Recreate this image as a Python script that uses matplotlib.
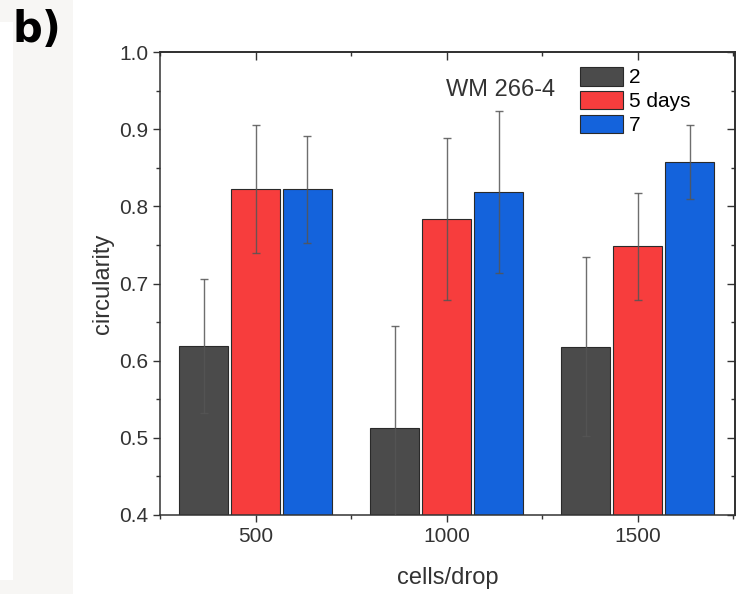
import numpy as np
import matplotlib
matplotlib.use("Agg")
import matplotlib.pyplot as plt
from matplotlib.patches import Rectangle
from matplotlib.ticker import MultipleLocator, FormatStrFormatter

# values (circularity, mean and error)
cells = [500, 1000, 1500]
day2 = [0.619, 0.513, 0.618]
err2 = [0.087, 0.132, 0.116]
day5 = [0.822, 0.783, 0.748]
err5 = [0.083, 0.105, 0.069]
day7 = [0.822, 0.818, 0.858]
err7 = [0.069, 0.105, 0.048]
labels = ["2", "5 days", "7"]
colors = ["#4b4b4b", "#f73d3d", "#1463dc"]

plt.rcParams['font.family'] = ['Liberation Sans', 'DejaVu Sans']

fig = plt.figure(figsize=(7.43, 5.94), dpi=100)

# light grey panel strip on the left, as in the scanned figure
fig.patches.append(Rectangle((0, 0), 73 / 743, 1, transform=fig.transFigure,
                             facecolor="#f7f6f4", edgecolor="none", zorder=0))
fig.patches.append(Rectangle((0, 14 / 594), 13 / 743, 1 - 36 / 594, transform=fig.transFigure,
                             facecolor="white", edgecolor="none", zorder=0))
fig.text(12 / 743, 1 - 9 / 594, "b)", fontsize=30, fontweight="bold",
         family="DejaVu Sans", ha="left", va="top")

ax = fig.add_axes([160 / 743, 1 - 515 / 594, 575 / 743, 463 / 594])

x = np.array(cells, dtype=float)
width = 127
offset = 136
series = [(day2, err2), (day5, err5), (day7, err7)]
handles = []
for i, (vals, errs) in enumerate(series):
    pos = x + (i - 1) * offset
    b = ax.bar(pos, vals, width=width, bottom=0, color=colors[i],
               edgecolor="#2a2a2a", linewidth=0.8, label=labels[i], zorder=2)
    ax.errorbar(pos, vals, yerr=errs, fmt="none", ecolor="#555555",
                elinewidth=1.0, capsize=3, capthick=1.0, alpha=0.85, zorder=3)
    handles.append(b)

ax.set_xlim(250, 1755)
ax.set_ylim(0.4, 1.0)
ax.set_xticks(cells)
ax.xaxis.set_minor_locator(MultipleLocator(250))
ax.yaxis.set_major_locator(MultipleLocator(0.1))
ax.yaxis.set_minor_locator(MultipleLocator(0.05))
ax.yaxis.set_major_formatter(FormatStrFormatter("%.1f"))

for s in ax.spines.values():
    s.set_linewidth(1.1)
    s.set_color("#333333")
ax.tick_params(which="major", direction="out", length=5, width=1.0,
               color="#333333", labelsize=15, labelcolor="#333333")
ax.tick_params(which="minor", direction="out", length=3, width=1.0, color="#333333")

# inward ticks on the top and right sides, no labels
top = ax.secondary_xaxis("top")
top.set_xticks(cells)
top.xaxis.set_minor_locator(MultipleLocator(250))
top.tick_params(which="major", direction="in", length=6, width=1.0, color="#333333",
                labeltop=False)
top.tick_params(which="minor", direction="in", length=3, width=1.0, color="#333333")
top.spines["top"].set_linewidth(1.1)
right = ax.secondary_yaxis("right")
right.yaxis.set_major_locator(MultipleLocator(0.1))
right.yaxis.set_minor_locator(MultipleLocator(0.05))
right.tick_params(which="major", direction="in", length=6, width=1.0, color="#333333",
                  labelright=False)
right.tick_params(which="minor", direction="in", length=3, width=1.0, color="#333333")
right.spines["right"].set_linewidth(1.1)

ax.set_xlabel("cells/drop", fontsize=17, color="#333333", labelpad=15)
ax.set_ylabel("circularity", fontsize=17, color="#333333", labelpad=4)

ax.text(0.497, 0.918, "WM 266-4", transform=ax.transAxes, fontsize=17,
        color="#333333", ha="left", va="center")
ax.legend(handles=handles, labels=labels, loc="upper left",
          bbox_to_anchor=(420 / 575, 1 - 15 / 463), frameon=False, fontsize=15,
          handlelength=2.07, handleheight=1.0, labelspacing=0.16,
          handletextpad=0.3, borderpad=0, borderaxespad=0)

fig.savefig("out.png", dpi=100)
